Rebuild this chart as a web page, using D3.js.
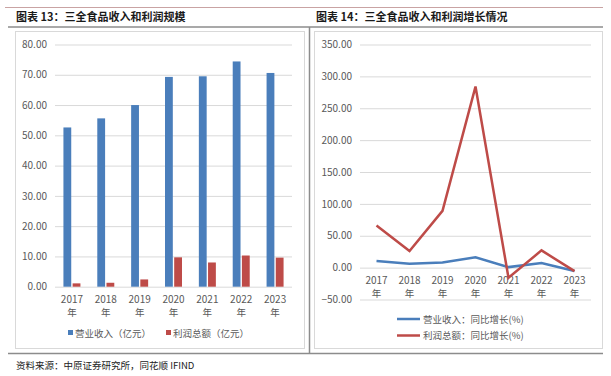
<!DOCTYPE html>
<html>
<head>
<meta charset="utf-8">
<script src="https://cdn.jsdelivr.net/npm/d3@7"></script>
<style>
  body { margin: 0; background: #fff; }
  text { font-family: "Noto Sans CJK SC", "Noto Sans", sans-serif; }
</style>
</head>
<body>
<svg width="611" height="376"></svg>
<script>
var years = ["2017", "2018", "2019", "2020", "2021", "2022", "2023"];
var revenue = [52.6, 55.6, 60.0, 69.3, 69.5, 74.4, 70.6];   // 营业收入（亿元）
var profit = [1.1, 1.3, 2.4, 9.7, 8.0, 10.3, 9.6];          // 利润总额（亿元）
var revenueGrowth = [10.4, 6.0, 8.2, 16.2, 0.8, 7.2, -5.2]; // 营业收入：同比增长(%)
var profitGrowth = [66, 26, 89, 284, -16, 27, -5.5];       // 利润总额：同比增长(%)
var leftTicks = [0, 10, 20, 30, 40, 50, 60, 70, 80];
var rightTicks = [-50, 0, 50, 100, 150, 200, 250, 300, 350];

var blue = "#4a7ebb", red = "#be4b48", grid = "#d9d9d9", tickColor = "#595959";
var fmt = d3.format(".2f");

var svg = d3.select("svg");
svg.append("rect").attr("width", 611).attr("height", 376).attr("fill", "#fff");

// page decoration: top rule, title rules, divider, bottom rule
svg.append("line").attr("x1", 5).attr("x2", 603).attr("y1", 7.5).attr("y2", 7.5)
    .attr("stroke", "#c9a3a3").attr("stroke-width", 1);
svg.append("line").attr("x1", 8).attr("x2", 603).attr("y1", 27).attr("y2", 27)
    .attr("stroke", "#8c8c8c").attr("stroke-width", 1.5);
svg.append("line").attr("x1", 309.5).attr("x2", 309.5).attr("y1", 27).attr("y2", 354)
    .attr("stroke", "#8c8c8c").attr("stroke-width", 1.5);
svg.append("line").attr("x1", 8).attr("x2", 603).attr("y1", 353.5).attr("y2", 353.5)
    .attr("stroke", "#8c8c8c").attr("stroke-width", 1.5);

svg.append("text").attr("x", 16).attr("y", 21).attr("font-size", 11).attr("font-weight", "bold")
    .attr("fill", "#1a1a1a").text("图表 13：三全食品收入和利润规模");
svg.append("text").attr("x", 316).attr("y", 21).attr("font-size", 11).attr("font-weight", "bold")
    .attr("fill", "#1a1a1a").text("图表 14：三全食品收入和利润增长情况");
svg.append("text").attr("x", 16).attr("y", 369).attr("font-size", 9.5)
    .attr("fill", "#222").text("资料来源：中原证券研究所，同花顺 IFIND");

// chart frames
svg.append("rect").attr("x", 15.5).attr("y", 31.5).attr("width", 289).attr("height", 317)
    .attr("fill", "none").attr("stroke", grid);
svg.append("rect").attr("x", 314.5).attr("y", 31.5).attr("width", 288).attr("height", 317)
    .attr("fill", "none").attr("stroke", grid);

//----- left: bar chart
var left = svg.append("g");
var y1 = d3.scaleLinear().domain([0, 80]).range([286.7, 44.5]);
var x1 = d3.scaleBand().domain(years).range([55, 292]);
var xs = d3.scaleBand().domain(["rev", "pro"]).range([-8.5, 8.5]).paddingInner(0.15);

left.append("g").attr("transform", "translate(55,0)")
    .call(d3.axisLeft(y1).tickValues(leftTicks).tickFormat(fmt).tickSize(-237).tickPadding(8))
    .call(function(g) {
      g.select(".domain").remove();
      g.selectAll(".tick line").attr("stroke", grid);
      g.selectAll(".tick text").attr("fill", tickColor).attr("font-size", 10);
    });

var groups = left.selectAll(".yr").data(years).enter().append("g")
    .attr("transform", function(d) { return "translate(" + (x1(d) + x1.bandwidth() / 2) + ",0)"; });

groups.append("rect")
    .attr("x", xs("rev")).attr("width", xs.bandwidth())
    .attr("y", function(d, i) { return y1(revenue[i]); })
    .attr("height", function(d, i) { return y1(0) - y1(revenue[i]); })
    .attr("fill", blue);
groups.append("rect")
    .attr("x", xs("pro")).attr("width", xs.bandwidth())
    .attr("y", function(d, i) { return y1(profit[i]); })
    .attr("height", function(d, i) { return y1(0) - y1(profit[i]); })
    .attr("fill", red);

groups.append("text").attr("y", 303).attr("text-anchor", "middle").attr("font-size", 10)
    .attr("fill", tickColor).text(function(d) { return d; });
groups.append("text").attr("y", 316).attr("text-anchor", "middle").attr("font-size", 9.5)
    .attr("fill", tickColor).text("年");

// left legend
var legL = [{name: "营业收入（亿元）", color: blue, x: 68}, {name: "利润总额（亿元）", color: red, x: 166}];
var lg = left.selectAll(".leg").data(legL).enter().append("g")
    .attr("transform", function(d) { return "translate(" + d.x + ",333)"; });
lg.append("rect").attr("x", 0).attr("y", -3).attr("width", 5).attr("height", 5)
    .attr("fill", function(d) { return d.color; });
lg.append("text").attr("x", 7).attr("y", 3.5).attr("font-size", 9.5).attr("fill", tickColor)
    .text(function(d) { return d.name; });

//----- right: growth lines
var right = svg.append("g");
var y2 = d3.scaleLinear().domain([-50, 350]).range([299.5, 44.5]);
var x2 = d3.scaleBand().domain(years).range([360, 591]);
var cx = function(d) { return x2(d) + x2.bandwidth() / 2; };

right.append("g").attr("transform", "translate(360,0)")
    .call(d3.axisLeft(y2).tickValues(rightTicks).tickFormat(fmt).tickSize(-231).tickPadding(8))
    .call(function(g) {
      g.select(".domain").remove();
      g.selectAll(".tick line").attr("stroke", grid);
      g.selectAll(".tick text").attr("fill", tickColor).attr("font-size", 10);
    });

right.selectAll(".yl").data(years).enter().append("text")
    .attr("x", cx).attr("y", 284).attr("text-anchor", "middle").attr("font-size", 10)
    .attr("fill", tickColor).text(function(d) { return d; });
right.selectAll(".yn").data(years).enter().append("text")
    .attr("x", cx).attr("y", 297).attr("text-anchor", "middle").attr("font-size", 9.5)
    .attr("fill", tickColor).text("年");

var line = d3.line()
    .x(function(d, i) { return cx(years[i]); })
    .y(function(d) { return y2(d); });

right.append("path").datum(revenueGrowth).attr("d", line)
    .attr("fill", "none").attr("stroke", blue).attr("stroke-width", 2.5);
right.append("path").datum(profitGrowth).attr("d", line)
    .attr("fill", "none").attr("stroke", red).attr("stroke-width", 2.5);

// right legend
var legR = [{name: "营业收入：同比增长(%)", color: blue, y: 319}, {name: "利润总额：同比增长(%)", color: red, y: 335.5}];
var rg = right.selectAll(".leg").data(legR).enter().append("g")
    .attr("transform", function(d) { return "translate(397," + d.y + ")"; });
rg.append("line").attr("x1", 0).attr("x2", 23).attr("stroke", function(d) { return d.color; })
    .attr("stroke-width", 2.5);
rg.append("text").attr("x", 26).attr("y", 3.5).attr("font-size", 9.5).attr("fill", tickColor)
    .text(function(d) { return d.name; });
</script>
</body>
</html>
